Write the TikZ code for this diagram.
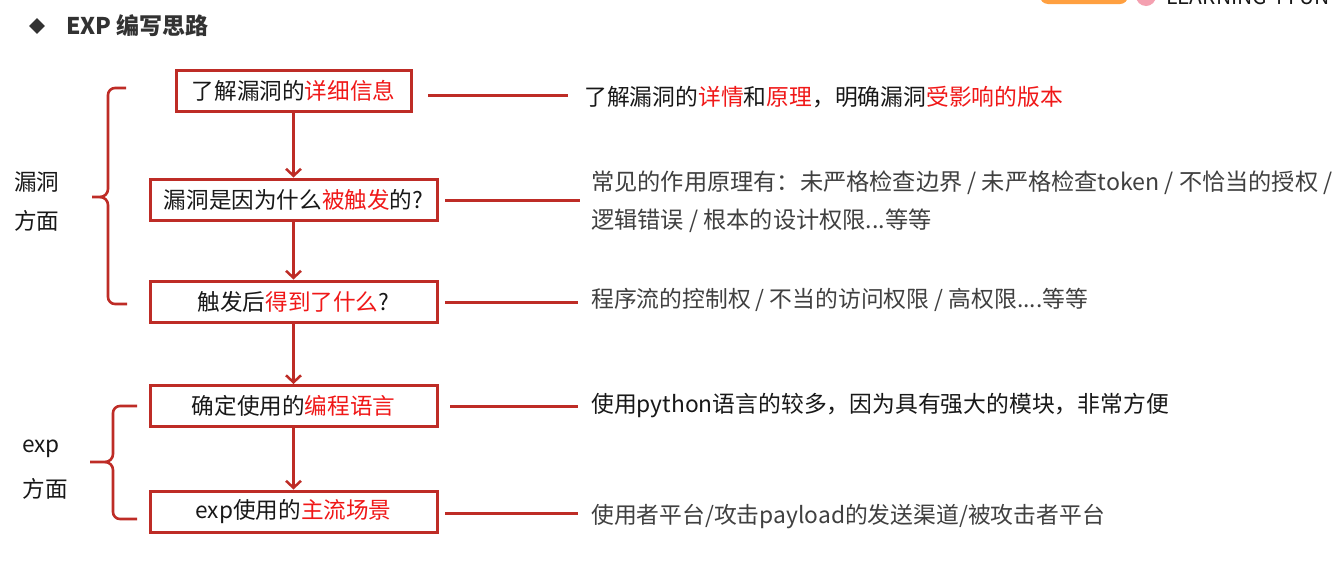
\documentclass[tikz,border=0pt]{standalone}
\usepackage{fontspec}
\setmainfont{Noto Sans CJK SC}
\usetikzlibrary{arrows.meta,shadows}
\definecolor{boxred}{RGB}{190,44,38}
\definecolor{hlred}{RGB}{240,24,24}
\definecolor{txt}{RGB}{24,24,24}
\definecolor{gtxt}{RGB}{64,64,64}
\definecolor{ttl}{RGB}{50,50,50}
\definecolor{logoor}{RGB}{255,160,64}
\definecolor{logopk}{RGB}{244,160,176}
\newcommand{\redt}[1]{\textcolor{hlred}{#1}}
\begin{document}
\begin{tikzpicture}[x=1pt,y=-1pt,
  font=\fontsize{22.6}{26}\selectfont,
  stepbox/.style={draw=boxred, line width=3pt, fill=white, inner sep=0pt, text=txt,
     minimum height=41pt,
     drop shadow={opacity=0.25, shadow xshift=1.5pt, shadow yshift=-1.5pt}},
  flow/.style={draw=boxred, line width=2.5pt, -{Straight Barb[length=7pt,width=15pt,line width=2.5pt]}},
  link/.style={draw=boxred, line width=3pt},
  bracestyle/.style={draw=boxred, line width=2.6pt},
  note/.style={anchor=west, inner sep=0pt, text=gtxt, font=\fontsize{22.8}{26}\selectfont},
  side/.style={inner sep=0pt, text=txt}]
\useasboundingbox (0,0) rectangle (1336,587);
\fill[white] (0,0) rectangle (1336,587);

% logo, cut by the top edge
\begin{scope}
\clip (0,0) rectangle (1336,587);
\fill[logoor, rounded corners=8pt] (1040,-30) rectangle (1128,4);
\fill[logopk] (1146,-4) circle (10);
\node[anchor=base west, inner sep=0pt, text=txt, font=\fontsize{21}{24}\selectfont] (logo) at (1166,4) {LEARNING 4 FUN};
\end{scope}

% title
\node[fill=ttl, shape=rectangle, rotate=45, inner sep=0pt, minimum width=11pt, minimum height=11pt] (bullet) at (37,26) {};
\node[anchor=west, inner sep=0pt, text=ttl, font=\fontsize{23}{26}\selectfont\bfseries] (title) at (66,26) {EXP 编写思路};

% boxes
\node[stepbox, minimum width=235pt] (b1) at (293.5,90.5) {了解漏洞的\redt{详细信息}};
\node[stepbox, minimum width=287pt] (b2) at (293.5,199.5) {漏洞是因为什么\redt{被触发}的?};
\node[stepbox, minimum width=287pt] (b3) at (293.5,301.5) {触发后\redt{得到了什么}?};
\node[stepbox, minimum width=287pt] (b4) at (293.5,406) {确定使用的\redt{编程语言}};
\node[stepbox, minimum width=287pt] (b5) at (293.5,511.5) {exp使用的\redt{主流场景}};

% vertical arrows
\draw[flow] (b1.south) -- (b2.north);
\draw[flow] (b2.south) -- (b3.north);
\draw[flow] (b3.south) -- (b4.north);
\draw[flow] (b4.south) -- (b5.north);

% horizontal connectors
\coordinate (l1s) at (428,95);  \coordinate (l1e) at (568,95);
\coordinate (l2s) at (445,200); \coordinate (l2e) at (580,200);
\coordinate (l3s) at (445,302); \coordinate (l3e) at (578,302);
\coordinate (l4s) at (450,406); \coordinate (l4e) at (578,406);
\coordinate (l5s) at (445,513); \coordinate (l5e) at (578,513);
\draw[link] (l1s) -- (l1e);
\draw[link] (l2s) -- (l2e);
\draw[link] (l3s) -- (l3e);
\draw[link] (l4s) -- (l4e);
\draw[link] (l5s) -- (l5e);

% right-hand notes
\node[note, text=txt] (n1) at (584,97) {了解漏洞的\redt{详情}和\redt{原理}，明确漏洞\redt{受影响的版本}};
\node[note, align=left, font=\fontsize{23.2}{38}\selectfont] (n2) at (591,202) {常见的作用原理有：未严格检查边界 / 未严格检查token / 不恰当的授权 /\\逻辑错误 / 根本的设计权限...等等};
\node[note] (n3) at (591,300) {程序流的控制权 / 不当的访问权限 / 高权限....等等};
\node[note, text=txt] (n4) at (591,406) {使用python语言的较多，因为具有强大的模块，非常方便};
\node[note] (n5) at (591,517) {使用者平台/攻击payload的发送渠道/被攻击者平台};

% braces
\draw[bracestyle] (126,88) -- (115,88) to[out=180,in=90] (108,95) -- (108,189)
   to[out=270,in=0] (100,197) -- (92,197);
\draw[bracestyle] (100,197) to[out=0,in=90] (108,205) -- (108,297)
   to[out=270,in=180] (115,304) -- (127,304);
\draw[bracestyle] (137,406) -- (120,406) to[out=180,in=90] (113,413) -- (113,454)
   to[out=270,in=0] (105,462) -- (90,462);
\draw[bracestyle] (105,462) to[out=0,in=90] (113,470) -- (113,512)
   to[out=270,in=180] (120,519) -- (137,519);

% side labels
\node[side] (s1) at (37,182) {漏洞};
\node[side] (s2) at (37,221) {方面};
\node[side] (s3) at (41,449) {exp};
\node[side] (s4) at (45,489) {方面};
\end{tikzpicture}
\end{document}
